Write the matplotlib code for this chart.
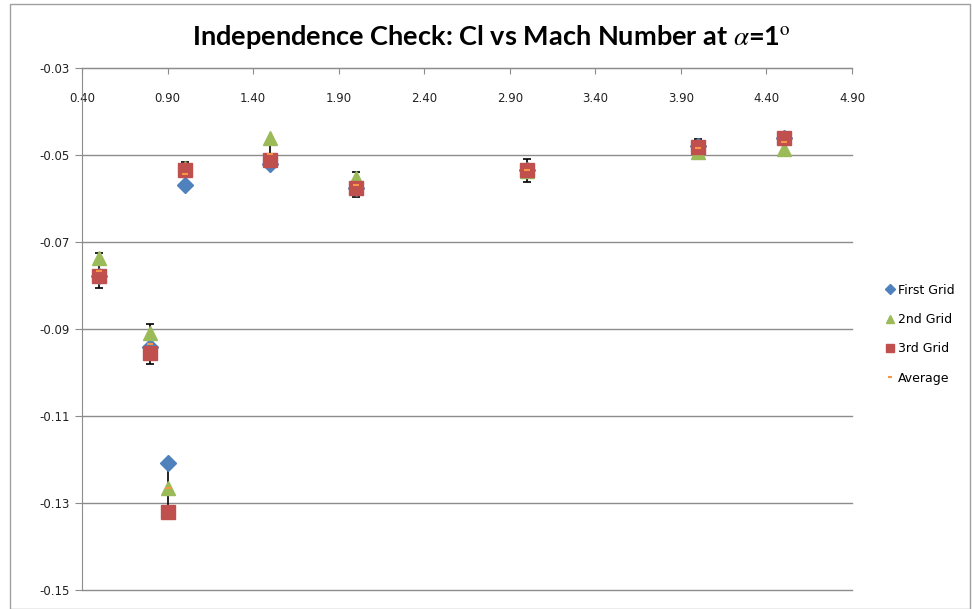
import matplotlib.pyplot as plt
from matplotlib.patches import Rectangle

# Mach numbers and lift coefficient for each grid
mach = [0.5, 0.8, 0.9, 1.0, 1.5, 2.0, 3.0, 4.0, 4.5]
first_grid = [-0.0778, -0.0941, -0.1208, -0.0569, -0.0521, -0.0575, -0.0534, -0.0480, -0.0460]
second_grid = [-0.0737, -0.0909, -0.1266, -0.0530, -0.0461, -0.0553, -0.0536, -0.0493, -0.0487]
third_grid = [-0.0778, -0.0955, -0.1321, -0.0534, -0.0511, -0.0576, -0.0534, -0.0482, -0.0461]
average = [-0.0766, -0.0935, -0.1265, -0.0544, -0.0498, -0.0568, -0.0535, -0.0485, -0.0469]
err = [0.0040, 0.0046, 0.0057, 0.0028, 0.0032, 0.0028, 0.0026, 0.0022, 0.0022]

xticks = [0.40, 0.90, 1.40, 1.90, 2.40, 2.90, 3.40, 3.90, 4.40, 4.90]
yticks = [-0.03, -0.05, -0.07, -0.09, -0.11, -0.13, -0.15]

plt.rcParams['mathtext.fontset'] = 'stix'

fig = plt.figure(figsize=(9.72, 6.09), dpi=100)
ax = fig.add_axes([82 / 972, 1 - 590 / 609, 770 / 972, 522 / 609])

grid_col = '#8c8c8c'
for y in yticks:
    ax.axhline(y, color=grid_col, lw=1, zorder=0, clip_on=False)

ax.errorbar(mach, average, yerr=err, fmt='none', ecolor='black', elinewidth=1.2,
            capsize=3, capthick=1.2, zorder=1)
ax.plot(mach, first_grid, 'D', color='#4F81BD', ms=8, label='First Grid', zorder=2)
ax.plot(mach, second_grid, '^', color='#9BBB59', ms=10, label='2nd Grid', zorder=3)
ax.plot(mach, third_grid, 's', color='#C0504D', ms=10, label='3rd Grid', zorder=4)
ax.plot(mach, average, '_', color='#F79646', ms=5, mew=1.5, label='Average', zorder=5)

ax.set_xlim(0.40, 4.90)
ax.set_ylim(-0.15, -0.03)
ax.set_xticks(xticks)
ax.set_xticklabels([f'{v:.2f}' for v in xticks])
ax.set_yticks(yticks)
ax.set_yticklabels([f'{v:.2f}' for v in yticks])

ax.xaxis.tick_top()
ax.tick_params(axis='x', direction='in', length=4, color=grid_col, pad=-27,
               labelsize=8.5, labelcolor='#222222')
ax.tick_params(axis='y', direction='out', length=5, color=grid_col, pad=4,
               labelsize=8.5, labelcolor='#222222')

for side in ['right', 'bottom']:
    ax.spines[side].set_visible(False)
for side in ['left', 'top']:
    ax.spines[side].set_color(grid_col)

fig.text(0.506, 0.94, 'Independence Check: Cl vs Mach Number at $\\alpha$=1$^{\\mathrm{o}}$',
         ha='center', va='center', fontsize=19.5, fontweight='bold', family='Lato')

leg = ax.legend(loc='center left', bbox_to_anchor=(1.03, 0.49), frameon=False,
                fontsize=9, handlelength=0.6, handletextpad=0.3, labelspacing=1.3,
                markerscale=0.6)

fig.patches.append(Rectangle((10 / 972, 0), 960 / 972, 1 - 4 / 609, transform=fig.transFigure,
                             fill=False, edgecolor='#a0a0a0', lw=1))

fig.savefig('out.png', dpi=100)
